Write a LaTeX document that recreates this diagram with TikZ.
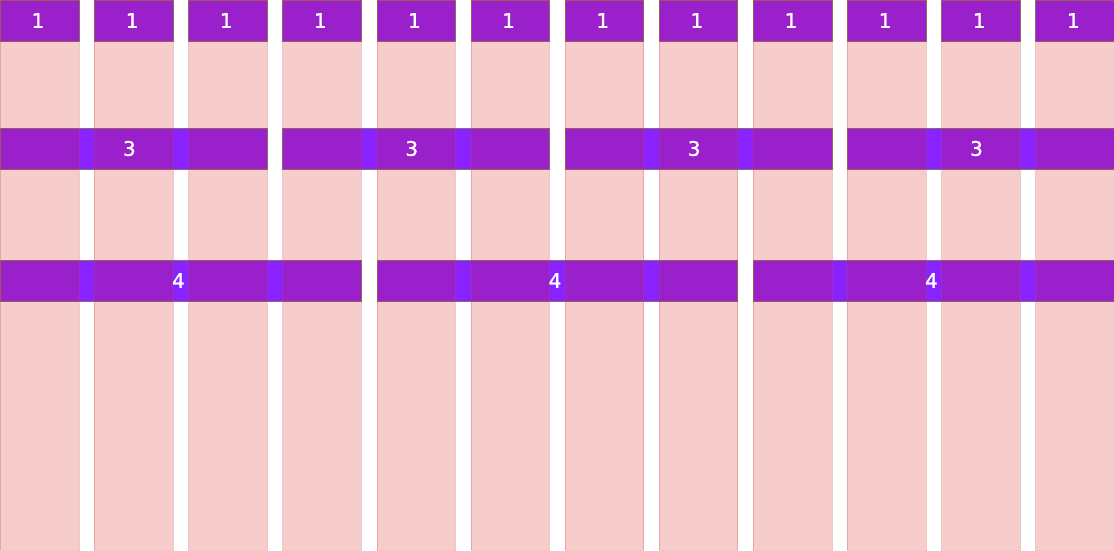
\documentclass[tikz,border=0pt]{standalone}
\usepackage{fontspec}
\newfontfamily\numfont[FakeBold=1.3]{DejaVu Sans}
\definecolor{barpurple}{RGB}{138,34,255}
\definecolor{barline}{RGB}{130,112,112}
\definecolor{colred}{RGB}{214,28,19}
\definecolor{colline}{RGB}{180,80,80}
\begin{document}
\begin{tikzpicture}[x=1pt,y=-1pt,
  bar/.style={fill=barpurple,draw=barline,line width=0.8pt,inner sep=0pt,anchor=north west,minimum height=41pt},
  colbox/.style={fill=colred,fill opacity=0.22,draw=colline,draw opacity=0.3,line width=0.5pt,inner sep=0pt,anchor=north west,minimum height=550pt,minimum width=78.5pt},
  num/.style={text=white,font=\numfont\fontsize{20}{20}\selectfont,inner sep=0pt}]
\useasboundingbox (0,0) rectangle (1114,550);
\def\w{78.5}
\def\p{94.13}
% bars of one column
\foreach \i in {0,...,11}{
  \node[bar,minimum width=\w pt] (one\i) at ({\i*\p},0) {};
}
% bars of three columns
\foreach \j in {0,...,3}{
  \node[bar,minimum width={(2*\p+\w)*1pt}] (three\j) at ({\j*3*\p},128) {};
}
% bars of four columns
\foreach \j in {0,...,2}{
  \node[bar,minimum width={(3*\p+\w)*1pt}] (four\j) at ({\j*4*\p},260) {};
}
% columns
\foreach \i in {0,...,11}{
  \node[colbox] (col\i) at ({\i*\p},0) {};
}
% labels
\foreach \i in {0,...,11}{
  \node[num] (lone\i) at ({\i*\p+\w/2-1.3},20.5) {1};
}
\foreach \j in {0,...,3}{
  \node[num] (lthree\j) at ({\j*3*\p+(2*\p+\w)/2-4},148.5) {3};
}
\foreach \j in {0,...,2}{
  \node[num] (lfour\j) at ({\j*4*\p+(3*\p+\w)/2-2},280.5) {4};
}
\end{tikzpicture}
\end{document}
